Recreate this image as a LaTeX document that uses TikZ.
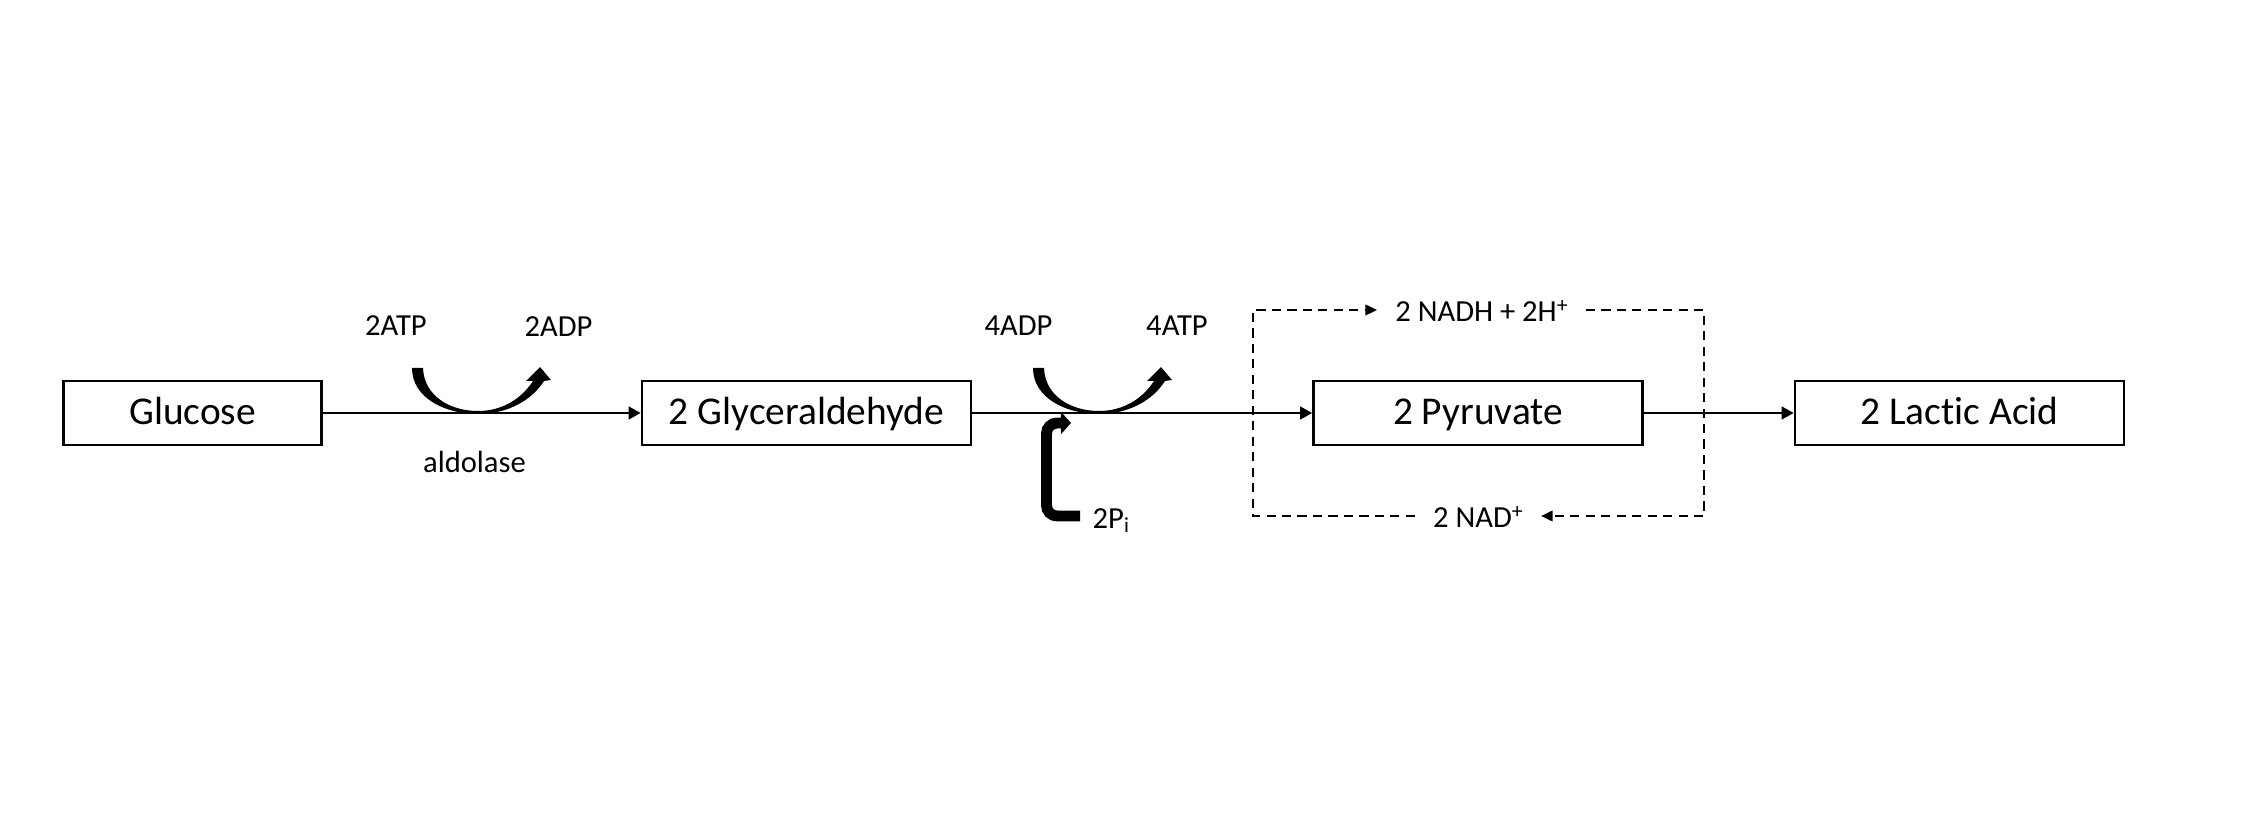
\documentclass[tikz,border=0pt]{standalone}
\usepackage{fontspec}
\setmainfont{Carlito}[Ligatures=NoCommon]
\usetikzlibrary{arrows.meta}
\newcommand\chargeplus{\raisebox{0.3em}{\fontsize{6.2}{6.2}\selectfont +}}

\begin{document}
\begin{tikzpicture}[x=0.01cm,y=-0.01cm,
    box/.style={draw,line width=0.7pt,minimum width=3.29cm,minimum height=0.64cm,inner sep=0pt,
      font=\fontsize{11.2}{13}\selectfont,text height=0.68em,text depth=0pt},
    lbl/.style={inner sep=0pt,font=\fontsize{8.7}{10}\selectfont},
    cofactor/.style={lbl,inner xsep=5pt,text height=0.64em,text depth=0pt},
    flow/.style={line width=0.6pt,-{Triangle[length=3.4pt,width=3.6pt]}},
    redox/.style={line width=0.6pt,dash pattern=on 2.6pt off 1.8pt,-{Triangle[length=3.3pt,width=3pt]}},
    hookline/.style={line width=3.1pt,rounded corners=3pt,-{Triangle[length=2.9pt,width=6.3pt]}}]

    \fill[white] (0,0) rectangle (2248,816);

    % main chain
    \node   [box,minimum width=2.58cm]  (glucose)   at (192.5,413)  {Glucose};
    \node   [box]                       (glycer)    at (806.5,413)  {2 Glyceraldehyde};
    \node   [box]                       (pyruvate)  at (1478,413)   {2 Pyruvate};
    \node   [box]                       (lactic)    at (1959.5,413) {2 Lactic Acid};

    \draw   [flow] (glucose) -- (glycer);
    \draw   [flow] (glycer) -- (pyruvate);
    \draw   [flow] (pyruvate) -- (lactic);

    % energy labels
    \node   [lbl,anchor=base]   (atpin)     at (396,336)    {2ATP};
    \node   [lbl,anchor=base]   (adpout)    at (558.5,337)  {2ADP};
    \node   [lbl,anchor=base]   (adpin)     at (1018.5,336) {4ADP};
    \node   [lbl,anchor=base]   (atpout)    at (1177,336)   {4ATP};
    \node   [lbl,anchor=base]   (enzyme)    at (474.5,473)  {aldolase};

    % bent arrows over the line
    \foreach \dx in {0,621}
        \fill[shift={(\dx,0)}] (412,368) .. controls (412,398) and (445,414) .. (478,414)
            .. controls (508,414) and (532,400) .. (544,381)
            -- (551,380) -- (540,367) -- (526,381) -- (533,381)
            .. controls (522,398) and (503,411) .. (478,411)
            .. controls (450,411) and (424,396) .. (423,368) -- cycle;

    % phosphate hook
    \coordinate (pitail) at (1080,516);
    \node   [lbl,anchor=base west]  (pi)    at (1092,529)   {2P\textsubscript{i}};
    \draw   [hookline] (pitail) -- (1046.5,516) -- (1046.5,423) -- (1071,423);

    % NADH loop
    \node   [cofactor]  (nadh)  at (1481.5,310) {2 NADH + 2H\chargeplus};
    \node   [cofactor]  (nad)   at (1478,516)   {2 NAD\chargeplus};
    \coordinate (loopnw) at (1253,310);
    \coordinate (loopse) at (1704,516);

    \draw   [redox] (nad.west) -| (loopnw) -- (nadh.west);
    \draw   [redox] (nadh.east) -| (loopse) -- (nad.east);
\end{tikzpicture}
\end{document}
